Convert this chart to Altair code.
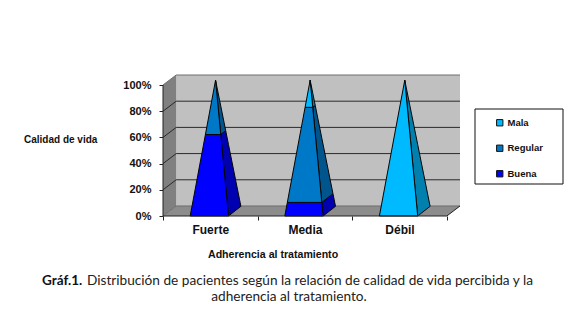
import altair as alt
import pandas as pd

CATEGORIES = ["Fuerte", "Media", "Débil"]
SERIES = ["Buena", "Regular", "Mala"]
BUENA = [60, 10, 0]
REGULAR = [40, 70, 0]
MALA = [0, 20, 100]
Y_TICKS = [0, 20, 40, 60, 80, 100]
FRONT = {"Mala": "#00BAFF", "Regular": "#0078C8", "Buena": "#0000FF"}
SIDE = {"Mala": "#0080AE", "Regular": "#00568C", "Buena": "#0000B0"}

WALL_DX, WALL_DY = 0.1395, 7.65
BAR_DX, BAR_DY = 0.131, 7.4
HALF = 0.2025
CENTER_SHIFT = 0.49

x_scale = alt.Scale(domain=[0, 3 + WALL_DX], nice=False, zero=False)
y_scale = alt.Scale(domain=[0, 100 + WALL_DY], nice=False, zero=False)

FONT = "Liberation Sans"


def pt(c, side, z, t):
    """3D pyramid point projected to chart units. t = level fraction."""
    X = side * HALF * (1 - t)
    Z = 0.5 + (z - 0.5) * (1 - t)
    return c + X + Z * BAR_DX, 100 * t + Z * BAR_DY


def spans(poly):
    xs = sorted({round(p[0], 6) for p in poly})
    out = []
    n = len(poly)
    for x in xs:
        ys = []
        for i in range(n):
            (x0, y0), (x1, y1) = poly[i], poly[(i + 1) % n]
            lo, hi = min(x0, x1) - 1e-5, max(x0, x1) + 1e-5
            if lo <= x <= hi:
                if abs(x1 - x0) < 1e-5:
                    ys += [y0, y1]
                else:
                    ys.append(y0 + (y1 - y0) * (x - x0) / (x1 - x0))
        out.append((x, min(ys), max(ys)))
    return out


front_rows, side_rows = [], []
for i, cat in enumerate(CATEGORIES):
    c = i + CENTER_SHIFT
    base = 0
    for s, vals in zip(SERIES, [BUENA, REGULAR, MALA]):
        v = vals[i]
        if v == 0:
            continue
        t0, t1 = base / 100, (base + v) / 100
        base += v
        fid = f"{cat}-{s}"
        for t in (t0, t1):
            xl, y = pt(c, -1, 0, t)
            xr, _ = pt(c, 1, 0, t)
            front_rows.append(dict(id=fid, serie=s, y=y, xl=xl, xr=xr))
        poly = [pt(c, 1, 0, t0), pt(c, 1, 1, t0), pt(c, 1, 1, t1), pt(c, 1, 0, t1)]
        for x, lo, hi in spans(poly):
            side_rows.append(dict(id=fid, fillc=SIDE[s], x=x, lo=lo, hi=hi))

front_df = pd.DataFrame(front_rows)
side_df = pd.DataFrame(side_rows)

x_axis = alt.Axis(
    values=[0, 0.5, 1, 1.5, 2, 2.5, 3],
    title=None, grid=False, domain=False,
    labelExpr="datum.value==0.5?'Fuerte':datum.value==1.5?'Media':datum.value==2.5?'Débil':''",
    tickOpacity=alt.expr("datum.value % 1 == 0 ? 1 : 0"),
    tickColor="#222222", tickSize=4, labelFontSize=12, labelFont=FONT,
    labelFontWeight="bold", labelColor="#111111", labelPadding=4, labelAngle=0,
)
y_axis = alt.Axis(
    values=Y_TICKS, title=None, grid=False, domain=False,
    labelExpr="datum.value + '%'",
    tickColor="#222222", tickSize=4, labelFontSize=11, labelFont=FONT,
    labelFontWeight="bold", labelColor="#111111", labelPadding=8,
)
X = lambda f: alt.X(f, scale=x_scale, axis=x_axis)
Y = lambda f: alt.Y(f, scale=y_scale, axis=y_axis)

# back wall
wall = alt.Chart(pd.DataFrame([
    dict(y=WALL_DY, xl=WALL_DX, xr=3 + WALL_DX),
    dict(y=100 + WALL_DY, xl=WALL_DX, xr=3 + WALL_DX),
])).mark_area(orient="horizontal", color="#C0C0C0").encode(y=Y("y:Q"), x=X("xl:Q"), x2="xr:Q")
# left wall
left_wall = alt.Chart(pd.DataFrame([
    dict(x=0, lo=0, hi=100),
    dict(x=WALL_DX, lo=WALL_DY, hi=100 + WALL_DY),
])).mark_area(orient="vertical", color="#808080").encode(x=X("x:Q"), y=Y("lo:Q"), y2="hi:Q")
# floor
floor = alt.Chart(pd.DataFrame([
    dict(y=0, xl=0, xr=3),
    dict(y=WALL_DY, xl=WALL_DX, xr=3 + WALL_DX),
])).mark_area(orient="horizontal", color="#8C8C8C").encode(y=Y("y:Q"), x=X("xl:Q"), x2="xr:Q")
# grid lines wrapping left wall and back wall
grid_rows = []
for v in Y_TICKS:
    col = "#6E6E6E" if v in (0, 100) else "#2A2A2A"
    grid_rows += [
        dict(level=v, col=col, x=0, y=v, k=0),
        dict(level=v, col=col, x=WALL_DX, y=v + WALL_DY, k=1),
        dict(level=v, col=col, x=3 + WALL_DX, y=v + WALL_DY, k=2),
    ]
grid = alt.Chart(pd.DataFrame(grid_rows)).mark_line(strokeWidth=1).encode(
    x=X("x:Q"), y=Y("y:Q"), detail="level:N", order="k:Q",
    stroke=alt.Stroke("col:N", scale=None, legend=None),
)
# floor right edge, axis lines
frame = alt.Chart(pd.DataFrame([
    dict(g="a", k=0, x=0, y=100), dict(g="a", k=1, x=0, y=0),
    dict(g="a", k=2, x=3, y=0), dict(g="a", k=3, x=3 + WALL_DX, y=WALL_DY),
])).mark_line(color="#222222", strokeWidth=1).encode(
    x=X("x:Q"), y=Y("y:Q"), detail="g:N", order="k:Q",
)

sides = alt.Chart(side_df).mark_area(orient="vertical", stroke="#050505", strokeWidth=1).encode(
    x=X("x:Q"), y=Y("lo:Q"), y2="hi:Q",
    fill=alt.Fill("fillc:N", scale=None, legend=None),
    detail="id:N",
)

fronts = alt.Chart(front_df).mark_area(orient="horizontal", stroke="#050505", strokeWidth=1).encode(
    y=Y("y:Q"), x=X("xl:Q"), x2="xr:Q",
    color=alt.Color(
        "serie:N",
        scale=alt.Scale(domain=["Mala", "Regular", "Buena"],
                        range=[FRONT["Mala"], FRONT["Regular"], FRONT["Buena"]]),
        legend=alt.Legend(
            orient="none", legendX=332, legendY=43, title=None,
            symbolType="square", symbolSize=40, symbolStrokeColor="#111111",
            symbolStrokeWidth=1, labelFont=FONT, labelFontSize=9.5,
            labelFontWeight="bold", labelColor="#111111",
            rowPadding=14.5, padding=0, labelOffset=3,
        ),
    ),
    detail="id:N",
)

legend_box = alt.Chart(pd.DataFrame({"a": [1]})).mark_rect(
    fill="white", stroke="#111111", strokeWidth=1
).encode(x=alt.value(312), x2=alt.value(400), y=alt.value(34), y2=alt.value(109))


def label(text, px, py, size=10, weight="bold", font=FONT, align="left", color="#111111"):
    return alt.Chart(pd.DataFrame({"t": [text]})).mark_text(
        font=font, fontSize=size, fontWeight=weight, align=align, baseline="middle", color=color
    ).encode(text="t:N", x=alt.value(px), y=alt.value(py))


texts = [
    label("Calidad de vida", -139, 65),
    label("Adherencia al tratamiento", 45, 180, size=10.6),
    label("Gráf.1.", -121, 206, size=13.5, font="Lato"),
    label("Distribución de pacientes según la relación de calidad de vida percibida y la",
          -76, 206, size=13.65, weight="normal", font="Lato", color="#222222"),
    label("adherencia al tratamiento.", 126, 222, size=13.65, weight="normal", font="Lato",
          align="center", color="#222222"),
]

chart = alt.layer(
    wall, left_wall, floor, grid, sides, fronts, frame, legend_box, *texts
).properties(
    width=297, height=141,
    padding={"left": 155, "top": 67, "right": 105, "bottom": 90},
    autosize=alt.AutoSizeParams(type="none"),
    background="white",
).configure_view(stroke=None)

chart.save("out.html", embed_options={"renderer": "svg", "actions": False})
